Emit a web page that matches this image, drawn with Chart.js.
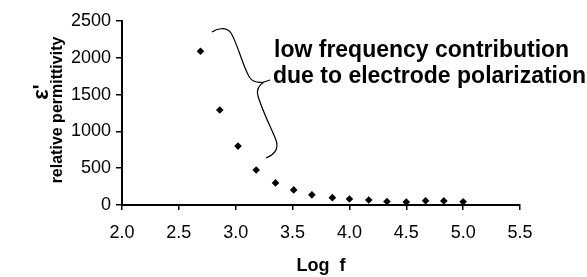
<!DOCTYPE html>
<html>
<head>
<meta charset="utf-8">
<script src="https://cdn.jsdelivr.net/npm/chart.js@4.4.0/dist/chart.umd.min.js"></script>
<style>
  html, body { margin: 0; padding: 0; background: #fff; }
  #wrap { width: 587px; height: 277px; position: relative; }
</style>
</head>
<body>
<div id="wrap"><canvas id="c" width="587" height="277"></canvas></div>
<script>
// ---- data ----
const logF = [2.69, 2.86, 3.02, 3.18, 3.35, 3.51, 3.67, 3.85, 4.00, 4.17, 4.33, 4.50, 4.67, 4.83, 5.00];
const permittivity = [2090, 1290, 800, 475, 300, 205, 138, 100, 82, 68, 48, 40, 58, 56, 45];
const xTicks = [2.0, 2.5, 3.0, 3.5, 4.0, 4.5, 5.0, 5.5];
const yTicks = [0, 500, 1000, 1500, 2000, 2500];
const xTitle = 'Log  f';
const yTitleSymbol = "ε'";
const yTitleText = 'relative permittivity';
const noteLines = ['low frequency contribution', 'due to electrode polarization'];

const FONT = '"Liberation Sans", Arial, sans-serif';

const overlay = {
  id: 'overlay',
  afterDraw(chart) {
    const ctx = chart.ctx;
    ctx.save();
    // y-axis titles (rotated)
    ctx.fillStyle = '#000';
    ctx.textAlign = 'center';
    ctx.textBaseline = 'middle';
    ctx.save();
    ctx.translate(58, 110);
    ctx.rotate(-Math.PI / 2);
    ctx.font = 'bold 16px ' + FONT;
    ctx.fillText(yTitleText, 0, 0);
    ctx.restore();
    ctx.save();
    ctx.translate(42, 92);
    ctx.rotate(-Math.PI / 2);
    ctx.font = 'bold 22px ' + FONT;
    ctx.fillText(yTitleSymbol, 0, 0);
    ctx.restore();

    // annotation text
    ctx.textAlign = 'left';
    ctx.textBaseline = 'alphabetic';
    ctx.font = 'bold 23px ' + FONT;
    ctx.fillText(noteLines[0], 274, 57);
    ctx.fillText(noteLines[1], 273, 83);

    // curly brace
    ctx.strokeStyle = '#000';
    ctx.lineWidth = 1.2;
    ctx.beginPath();
    ctx.moveTo(212, 32);
    ctx.bezierCurveTo(216, 29, 226, 26, 231, 33);
    ctx.bezierCurveTo(237, 42, 244, 70, 250, 78);
    ctx.bezierCurveTo(253, 82, 258, 83, 264, 82);
    ctx.lineTo(270, 80);
    ctx.moveTo(264, 82);
    ctx.bezierCurveTo(259, 85, 256, 89, 258, 96);
    ctx.bezierCurveTo(262, 110, 272, 130, 276, 140);
    ctx.bezierCurveTo(279, 149, 275, 154, 266, 158);
    ctx.stroke();
    ctx.restore();
  }
};

new Chart(document.getElementById('c'), {
  type: 'scatter',
  data: {
    datasets: [{
      data: logF.map((x, i) => ({ x, y: permittivity[i] })),
      pointStyle: 'rectRot',
      radius: 3.8,
      backgroundColor: '#000',
      borderColor: '#000',
      borderWidth: 0
    }]
  },
  options: {
    responsive: false,
    animation: false,
    devicePixelRatio: 1,
    layout: { padding: { left: 0, right: 67, top: 21, bottom: 0 } },
    plugins: { legend: { display: false }, tooltip: { enabled: false } },
    scales: {
      x: {
        type: 'linear',
        min: xTicks[0],
        max: xTicks[xTicks.length - 1],
        afterBuildTicks: (s) => { s.ticks = xTicks.map(v => ({ value: v })); },
        afterFit: (s) => { s.height = 72; },
        border: { display: true, color: '#000', width: 2 },
        grid: { display: true, drawOnChartArea: false, drawTicks: true, tickLength: 5, color: '#000', lineWidth: 1.5 },
        ticks: {
          color: '#000',
          font: { family: FONT, size: 18 },
          padding: 12,
          maxRotation: 0,
          callback: (v) => Number(v).toFixed(1)
        },
        title: {
          display: true,
          text: xTitle,
          color: '#000',
          font: { family: FONT, size: 18, weight: 'bold' },
          padding: { top: 0, bottom: 0 }
        }
      },
      y: {
        type: 'linear',
        min: yTicks[0],
        max: yTicks[yTicks.length - 1],
        afterBuildTicks: (s) => { s.ticks = yTicks.map(v => ({ value: v })); },
        afterFit: (s) => { s.width = 122; },
        border: { display: true, color: '#000', width: 2 },
        grid: { display: true, drawOnChartArea: false, drawTicks: true, tickLength: 6, color: '#000', lineWidth: 1.5 },
        ticks: {
          color: '#000',
          font: { family: FONT, size: 18 },
          padding: 5,
          callback: (v) => String(v)
        }
      }
    }
  },
  plugins: [overlay]
});
</script>
</body>
</html>
